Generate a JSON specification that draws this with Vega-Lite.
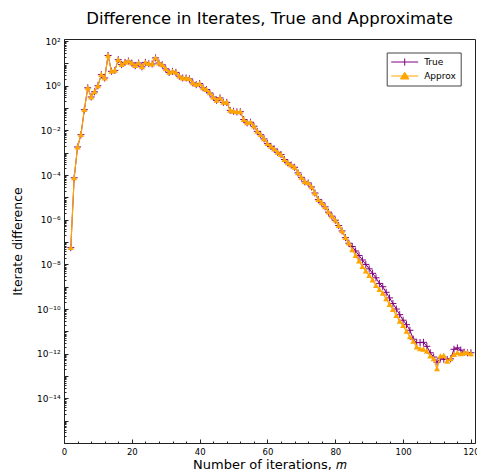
{
"$schema": "https://vega.github.io/schema/vega-lite/v6.json",
"width": 411, "height": 404,
"autosize": {"type": "none"},
"padding": {"left": 64, "top": 39, "right": 2, "bottom": 29},
"background": "white",
"title": {"text": "Difference in Iterates, True and Approximate", "font": "DejaVu Sans", "fontSize": 16.5, "fontWeight": "normal", "color": "#000", "anchor": "middle", "offset": 10},
"config": {"view": {"stroke": "#222", "strokeWidth": 1}, "font": "DejaVu Sans"},
"datasets": {
"approx": [[2,5.62e-8],[3,7.59e-5],[4,1.82e-3],[5,6.46e-3],[6,8.51e-2],[7,0.813],[8,0.316],[9,0.537],[10,1.0],[11,3.16],[12,2.24],[13,22.9],[14,4.47],[15,4.9],[16,14.8],[17,8.91],[18,11.2],[19,12.9],[20,10.5],[21,7.94],[22,10.5],[23,7.08],[24,11.2],[25,9.77],[26,9.5],[27,17.8],[28,10.5],[29,8.71],[30,5.75],[31,3.98],[32,4.47],[33,3.98],[34,2.69],[35,2.24],[36,2.24],[37,2.04],[38,1.35],[39,1.12],[40,1.26],[41,0.813],[42,0.676],[43,0.479],[44,0.316],[45,0.224],[46,0.288],[47,0.182],[48,0.182],[49,0.0794],[50,0.0724],[51,0.0676],[52,0.0692],[53,0.0309],[54,0.0219],[55,0.0234],[56,0.0155],[57,9.12e-3],[58,6.46e-3],[59,4.17e-3],[60,2.57e-3],[61,1.95e-3],[62,1.48e-3],[63,1.05e-3],[64,8.32e-4],[65,5.01e-4],[66,3.55e-4],[67,2.82e-4],[68,2.24e-4],[69,1.26e-4],[70,7.94e-5],[71,5.01e-5],[72,4.47e-5],[73,2.95e-5],[74,1.58e-5],[75,7.94e-6],[76,5.75e-6],[77,3.8e-6],[78,2.19e-6],[79,1.45e-6],[80,9.55e-7],[81,5.5e-7],[82,3.16e-7],[83,1.58e-7],[84,8.91e-8],[85,4.47e-8],[86,2.51e-8],[87,1.41e-8],[88,7.94e-9],[89,5.01e-9],[90,3.16e-9],[91,2.0e-9],[92,1.12e-9],[93,7.41e-10],[94,5.01e-10],[95,2.88e-10],[96,1.58e-10],[97,9.55e-11],[98,5.13e-11],[99,2.82e-11],[100,1.82e-11],[101,1.0e-11],[102,5.62e-12],[103,3.55e-12],[104,2.0e-12],[105,1.66e-12],[106,1.58e-12],[107,1.29e-12],[108,7.76e-13],[109,5.89e-13],[110,2.09e-13],[111,7.76e-13],[112,8.32e-13],[113,4.57e-13],[114,5.89e-13],[115,9.12e-13],[116,1.1e-12],[117,9.77e-13],[118,1.1e-12],[119,1.1e-12],[120,9.77e-13]],
"truev": [[2,5.62e-8],[3,7.59e-5],[4,1.82e-3],[5,6.46e-3],[6,8.51e-2],[7,0.813],[8,0.316],[9,0.537],[10,1.0],[11,3.16],[12,2.24],[13,22.9],[14,4.47],[15,4.9],[16,14.8],[17,8.91],[18,11.2],[19,12.9],[20,10.5],[21,7.94],[22,10.5],[23,7.08],[24,11.2],[25,9.77],[26,9.5],[27,17.8],[28,10.5],[29,8.71],[30,5.75],[31,3.98],[32,4.47],[33,3.98],[34,2.69],[35,2.24],[36,2.24],[37,2.04],[38,1.35],[39,1.12],[40,1.26],[41,0.813],[42,0.676],[43,0.479],[44,0.316],[45,0.224],[46,0.288],[47,0.182],[48,0.182],[49,0.0794],[50,0.0724],[51,0.0676],[52,0.0692],[53,0.0309],[54,0.0219],[55,0.0234],[56,0.0155],[57,9.12e-3],[58,6.46e-3],[59,4.17e-3],[60,2.57e-3],[61,1.95e-3],[62,1.48e-3],[63,1.05e-3],[64,8.32e-4],[65,5.01e-4],[66,3.55e-4],[67,2.82e-4],[68,2.24e-4],[69,1.26e-4],[70,7.94e-5],[71,5.01e-5],[72,4.47e-5],[73,2.95e-5],[74,1.58e-5],[75,7.94e-6],[76,5.75e-6],[77,3.8e-6],[78,2.19e-6],[79,1.45e-6],[80,9.55e-7],[81,5.5e-7],[82,3.16e-7],[83,1.58e-7],[84,8.91e-8],[85,6.31e-8],[86,3.98e-8],[87,2.51e-8],[88,1.58e-8],[89,1.0e-8],[90,6.31e-9],[91,3.98e-9],[92,2.51e-9],[93,1.41e-9],[94,1.0e-9],[95,5.62e-10],[96,3.16e-10],[97,1.78e-10],[98,1.0e-10],[99,5.62e-11],[100,3.16e-11],[101,2.0e-11],[102,1.12e-11],[103,4.47e-12],[104,3.16e-12],[105,3.16e-12],[106,3.24e-12],[107,2.14e-12],[108,1.1e-12],[109,7.08e-13],[110,4.17e-13],[111,6.31e-13],[112,5.62e-13],[113,5.5e-13],[114,5.89e-13],[115,1.58e-12],[116,1.82e-12],[117,1.45e-12],[118,1.17e-12],[119,1.1e-12],[120,1.1e-12]]
},
"encoding": {
  "x": {"field": "m", "type": "quantitative",
    "scale": {"domain": [0, 121.2], "nice": false, "zero": false},
    "axis": {"values": [0,4,8,12,16,20,24,28,32,36,40,44,48,52,56,60,64,68,72,76,80,84,88,92,96,100,104,108,112,116,120],
      "labelExpr": "datum.value % 20 === 0 ? datum.label : ''",
      "labelFlush": false, "labelOverlap": false, "grid": false,
      "tickSize": {"condition": {"test": "datum.value % 20 === 0", "value": -4}, "value": -2},
      "labelPadding": 8, "domainColor": "#222", "tickColor": "#222", "tickWidth": 1,
      "labelFont": "DejaVu Sans", "labelFontSize": 8.5, "labelColor": "#000",
      "title": "Number of iterations, 𝑚", "titleFont": "DejaVu Sans", "titleFontSize": 13, "titleFontWeight": "normal", "titleColor": "#000", "titlePadding": 1}},
  "y": {"field": "d", "type": "quantitative",
    "scale": {"type": "log", "domain": [1e-16, 125], "nice": false},
    "axis": {"values": [1e-16,2e-16,3e-16,4e-16,5e-16,6e-16,7e-16,8e-16,9e-16,1e-15,2e-15,3e-15,4e-15,5e-15,6e-15,7e-15,8e-15,9e-15,1e-14,2e-14,3e-14,4e-14,5e-14,6e-14,7e-14,8e-14,9e-14,1e-13,2e-13,3e-13,4e-13,5e-13,6e-13,7e-13,8e-13,9e-13,1e-12,2e-12,3e-12,4e-12,5e-12,6e-12,7e-12,8e-12,9e-12,1e-11,2e-11,3e-11,4e-11,5e-11,6e-11,7e-11,8e-11,9e-11,1e-10,2e-10,3e-10,4e-10,5e-10,6e-10,7e-10,8e-10,9e-10,1e-9,2e-9,3e-9,4e-9,5e-9,6e-9,7e-9,8e-9,9e-9,1e-8,2e-8,3e-8,4e-8,5e-8,6e-8,7e-8,8e-8,9e-8,1e-7,2e-7,3e-7,4e-7,5e-7,6e-7,7e-7,8e-7,9e-7,1e-6,2e-6,3e-6,4e-6,5e-6,6e-6,7e-6,8e-6,9e-6,1e-5,2e-5,3e-5,4e-5,5e-5,6e-5,7e-5,8e-5,9e-5,1e-4,2e-4,3e-4,4e-4,5e-4,6e-4,7e-4,8e-4,9e-4,1e-3,2e-3,3e-3,4e-3,5e-3,6e-3,7e-3,8e-3,9e-3,1e-2,2e-2,3e-2,4e-2,5e-2,6e-2,7e-2,8e-2,9e-2,0.1,0.2,0.3,0.4,0.5,0.6,0.7,0.8,0.9,1,2,3,4,5,6,7,8,9,10,20,30,40,50,60,70,80,90,100],
      "labelExpr": "abs(log(datum.value)/LN10 - round(log(datum.value)/LN10)) < 0.001 && round(log(datum.value)/LN10) % 2 == 0 && round(log(datum.value)/LN10) > -15 ? '10' + replace(replace(replace(replace(replace(replace(replace('' + round(log(datum.value)/LN10), '-', '⁻'), '0', '⁰'), '1', '¹'), '2', '²'), '4', '⁴'), '6', '⁶'), '8', '⁸') : ''",
      "labelOverlap": false, "grid": false,
      "tickSize": {"condition": {"test": "abs(log(datum.value)/LN10 - round(log(datum.value)/LN10)) < 0.001", "value": -4}, "value": -2},
      "labelPadding": 8, "domainColor": "#222", "tickColor": "#222", "tickWidth": 1,
      "labelFont": "DejaVu Sans", "labelFontSize": 9, "labelColor": "#000",
      "title": "Iterate difference", "titleFont": "DejaVu Sans", "titleFontSize": 12.5, "titleFontWeight": "normal", "titleColor": "#000", "titlePadding": 12}},
  "color": {"field": "s", "type": "nominal",
    "scale": {"domain": ["True", "Approx"], "range": ["#800080", "#FFA500"]},
    "legend": {"title": null, "orient": "none", "legendX": 322.7, "legendY": 13.5, "padding": 4,
      "strokeColor": "#444", "fillColor": "white", "labelFont": "DejaVu Sans", "labelFontSize": 9, "labelColor": "#000",
      "labelOffset": 22.5, "symbolSize": 100, "rowPadding": 1, "symbolStrokeWidth": 1,
      "encode": {"symbols": {"update": {
        "shape": {"signal": "datum.value === 'True' ? 'M-1,0H4.4M1.7,-0.72V0.72' : 'M-1,0H4.4M1.7,-0.75L2.56,0.6L0.84,0.6Z'"},
        "fill": {"signal": "datum.value === 'Approx' ? '#FFA500' : 'transparent'"},
        "stroke": {"signal": "datum.value === 'Approx' ? '#FFA500' : '#800080'"},
        "strokeWidth": {"value": 1}, "opacity": {"value": 1}}}}}}
},
"layer": [
  {"data": {"name": "truev"}, "transform": [{"calculate": "datum[0]", "as": "m"}, {"calculate": "datum[1]", "as": "d"}, {"calculate": "'True'", "as": "s"}],
   "mark": {"type": "line", "strokeWidth": 1, "clip": true}},
  {"data": {"name": "truev"}, "transform": [{"calculate": "datum[0]", "as": "m"}, {"calculate": "datum[1]", "as": "d"}, {"calculate": "'True'", "as": "s"}],
   "mark": {"type": "point", "shape": "M-1,0H1M0,-1V1", "filled": false, "size": 49, "strokeWidth": 1, "opacity": 1, "clip": true}},
  {"data": {"name": "approx"}, "transform": [{"calculate": "datum[0]", "as": "m"}, {"calculate": "datum[1]", "as": "d"}, {"calculate": "'Approx'", "as": "s"}],
   "mark": {"type": "line", "strokeWidth": 1.2, "clip": true}},
  {"data": {"name": "approx"}, "transform": [{"calculate": "datum[0]", "as": "m"}, {"calculate": "datum[1]", "as": "d"}, {"calculate": "'Approx'", "as": "s"}],
   "mark": {"type": "point", "shape": "M0,-1L1,0.8L-1,0.8Z", "filled": true, "size": 36, "opacity": 1, "clip": true}}
]
}
